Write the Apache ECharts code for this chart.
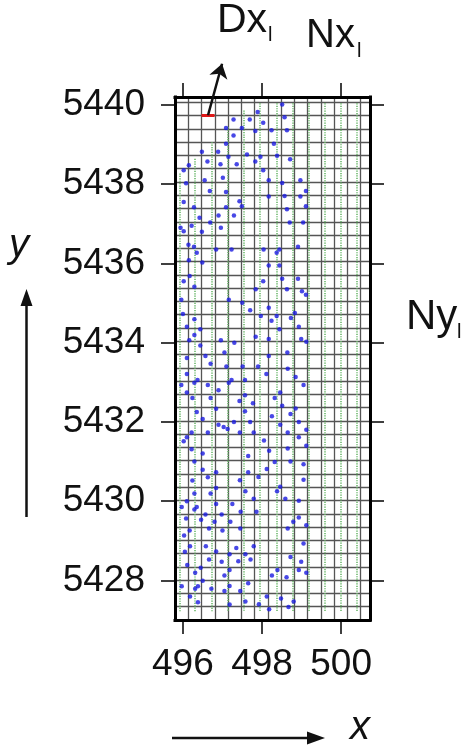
<!DOCTYPE html>
<html>
<head>
<meta charset="utf-8">
<script src="https://cdn.jsdelivr.net/npm/echarts@6/dist/echarts.min.js"></script>
<style>
  html, body { margin: 0; padding: 0; background: #fff; }
  #chart { width: 462px; height: 750px; }
</style>
</head>
<body>
<div id="chart"></div>
<script>
// Extent of the survey window (km)
const xMin = 495.8, xMax = 500.73;
const yMin = 5427.0, yMax = 5440.2;
const xTicks = [496, 498, 500];
const yTicks = [5428, 5430, 5432, 5434, 5436, 5438, 5440];
const cellSize = 0.335;

// Measurement sites (easting, northing)
const siteX = [498.51,497.89,498.57,497.28,497.69,498.03,497.09,497.49,497.83,498.24,498.63,497.28,497.09,498.30,496.48,496.89,497.62,497.15,497.96,498.38,498.71,496.62,497.83,496.15,496.95,497.36,496.02,498.03,496.08,496.55,497.01,498.17,498.51,498.97,496.68,497.09,499.11,498.17,498.57,498.97,496.02,497.43,496.28,497.09,497.49,498.63,499.11,496.90,497.29,496.42,496.69,498.70,499.04,495.94,496.22,496.96,496.02,496.48,496.14,496.28,496.35,496.84,497.23,498.04,498.44,498.37,498.91,496.15,496.49,498.17,498.44,496.17,496.02,498.03,498.51,498.91,496.29,497.84,498.63,499.01,499.11,495.96,497.16,497.50,497.70,498.17,498.83,496.00,497.97,498.37,498.73,496.29,498.24,496.10,496.44,498.44,498.93,496.29,497.84,496.16,496.96,498.17,498.99,497.30,499.12,496.44,497.05,498.64,496.10,496.57,498.17,497.10,497.51,497.90,496.70,496.10,498.11,498.65,498.85,496.37,496.29,497.23,497.57,497.16,495.96,496.63,499.05,496.90,496.10,498.46,496.24,496.70,497.57,498.32,497.43,497.77,498.51,496.84,497.57,498.85,496.35,498.72,498.25,496.50,497.29,497.70,498.93,496.90,497.03,497.13,498.46,499.12,496.22,496.63,497.44,497.79,498.65,496.10,498.93,496.02,498.05,499.12,496.22,498.18,498.65,496.50,497.65,496.29,498.32,498.72,499.05,496.50,498.12,496.84,497.65,496.63,497.91,496.24,497.44,499.05,496.84,498.46,498.38,497.58,496.29,496.70,496.84,497.25,496.10,497.79,498.59,498.93,495.97,496.35,496.29,497.46,497.86,496.57,496.98,496.08,496.46,496.80,497.20,498.93,498.79,499.12,496.66,497.45,498.65,496.17,497.00,496.03,499.05,496.18,496.58,497.35,497.79,496.05,496.84,497.18,497.58,498.72,496.66,497.71,496.98,497.40,498.99,496.11,496.45,497.18,498.39,498.93,499.12,496.31,497.05,498.25,498.62,496.50,497.65,495.97,496.38,497.18,496.31,496.72,497.05,497.45,498.12,496.18,498.48,498.80,497.58,496.38,497.18,497.92,498.67,498.18];
const siteY = [5440.01,5439.82,5439.69,5439.63,5439.63,5439.55,5439.42,5439.42,5439.34,5439.36,5439.36,5439.23,5439.02,5439.02,5438.82,5438.82,5438.75,5438.69,5438.69,5438.72,5438.63,5438.57,5438.57,5438.48,5438.50,5438.50,5438.35,5438.35,5438.02,5438.10,5438.16,5438.10,5438.03,5438.10,5437.83,5437.80,5437.83,5437.69,5437.70,5437.69,5437.55,5437.57,5437.42,5437.42,5437.44,5437.37,5437.44,5437.21,5437.21,5437.15,5437.03,5437.03,5437.03,5436.90,5436.95,5436.90,5436.81,5436.80,5436.47,5436.42,5436.27,5436.35,5436.35,5436.35,5436.35,5436.27,5436.42,5436.08,5436.02,5435.95,5435.95,5435.68,5435.55,5435.55,5435.61,5435.61,5435.41,5435.35,5435.35,5435.30,5435.21,5435.08,5435.08,5435.01,5434.82,5434.88,5434.75,5434.72,5434.67,5434.67,5434.62,5434.59,5434.55,5434.40,5434.34,5434.34,5434.40,5434.19,5434.15,5434.06,5434.06,5434.09,5434.09,5434.00,5434.02,5433.93,5433.75,5433.75,5433.61,5433.66,5433.66,5433.40,5433.40,5433.40,5433.47,5433.21,5433.21,5433.34,5433.13,5433.06,5432.99,5433.06,5433.06,5432.99,5432.93,5432.93,5432.93,5432.80,5432.74,5432.74,5432.60,5432.60,5432.67,5432.60,5432.53,5432.47,5432.41,5432.33,5432.27,5432.34,5432.25,5432.20,5432.14,5432.07,5432.00,5432.00,5432.00,5431.93,5431.87,5431.82,5431.93,5431.80,5431.73,5431.73,5431.73,5431.73,5431.73,5431.61,5431.61,5431.51,5431.53,5431.40,5431.31,5431.27,5431.33,5431.20,5431.14,5431.00,5430.99,5431.00,5430.93,5430.79,5430.81,5430.73,5430.73,5430.60,5430.61,5430.52,5430.53,5430.54,5430.33,5430.36,5430.25,5430.25,5430.19,5430.19,5429.93,5429.93,5430.00,5430.06,5430.06,5430.01,5429.85,5429.85,5429.79,5429.73,5429.73,5429.66,5429.66,5429.56,5429.53,5429.48,5429.48,5429.59,5429.48,5429.39,5429.31,5429.31,5429.31,5429.26,5429.26,5429.13,5428.93,5428.86,5428.86,5428.82,5428.86,5428.72,5428.73,5428.66,5428.66,5428.59,5428.53,5428.53,5428.47,5428.48,5428.47,5428.39,5428.32,5428.26,5428.26,5428.26,5428.19,5428.19,5428.12,5428.12,5428.08,5427.99,5427.93,5427.85,5427.85,5427.86,5427.79,5427.79,5427.73,5427.73,5427.59,5427.59,5427.54,5427.47,5427.47,5427.45,5427.39,5427.40,5427.33,5427.27];

// Flight-line profiles: easting, northern end, southern end
const profileX = [495.91,496.31,496.72,497.13,497.54,497.94,498.36,498.78,499.18,499.58,499.98,500.39];
const profileTop = [5438.27,5438.64,5439.06,5439.44,5439.86,5440.04,5440.04,5440.04,5440.04,5440.04,5440.04,5440.04];
const profileBottom = [5427.22,5427.22,5427.22,5427.22,5427.22,5427.22,5427.22,5427.22,5427.22,5427.22,5427.22,5427.22];

// Highlighted cell edge (Dx) and the pointer towards its label
const cellEdgeX = [496.47, 496.80];
const cellEdgeY = 5439.74;
const pointerEnd = [496.99, 5441.04];

const FONT = '"Liberation Sans", Arial, Helvetica, sans-serif';

const chart = echarts.init(document.getElementById('chart'), null, { renderer: 'canvas' });

const sites = siteX.map((x, i) => [x, siteY[i]]);
const profiles = profileX.map((x, i) => ({ coords: [[x, profileTop[i]], [x, profileBottom[i]]] }));

const borderLine = { show: true, onZero: false, lineStyle: { color: '#000', width: 3, cap: 'square' } };
const tickStyle = { color: '#000', width: 1.5 };
const labelStyle = { fontSize: 37, color: '#111', fontFamily: FONT, formatter: v => String(v) };
const cellLine = { show: true, lineStyle: { color: '#555', width: 1.3 } };

const option = {
  animation: false,
  backgroundColor: '#fff',
  grid: { left: 175, top: 97, width: 195, height: 523, containLabel: false },
  xAxis: [
    { type: 'value', position: 'bottom', min: xMin, max: xMax,
      axisLine: borderLine,
      axisTick: { show: true, inside: false, length: 14, customValues: xTicks, lineStyle: tickStyle },
      axisLabel: { show: true, customValues: xTicks, margin: 26, ...labelStyle },
      splitLine: { show: false } },
    { type: 'value', position: 'top', min: xMin, max: xMax,
      axisLine: borderLine,
      axisTick: { show: true, inside: false, length: 14, customValues: xTicks, lineStyle: tickStyle },
      axisLabel: { show: false },
      splitLine: { show: false } },
    { type: 'value', position: 'bottom', min: xMin, max: xMax, interval: cellSize,
      axisLine: { show: false }, axisTick: { show: false }, axisLabel: { show: false },
      splitLine: cellLine }
  ],
  yAxis: [
    { type: 'value', position: 'left', min: yMin, max: yMax,
      axisLine: borderLine,
      axisTick: { show: true, inside: false, length: 14, customValues: yTicks, lineStyle: tickStyle },
      axisLabel: { show: true, customValues: yTicks, margin: 30, ...labelStyle },
      splitLine: { show: false } },
    { type: 'value', position: 'right', min: yMin, max: yMax,
      axisLine: borderLine,
      axisTick: { show: true, inside: false, length: 14, customValues: yTicks, lineStyle: tickStyle },
      axisLabel: { show: false },
      splitLine: { show: false } },
    { type: 'value', position: 'left', min: yMin, max: yMax, interval: cellSize,
      axisLine: { show: false }, axisTick: { show: false }, axisLabel: { show: false },
      splitLine: cellLine }
  ],
  series: [
    { type: 'lines', coordinateSystem: 'cartesian2d', xAxisIndex: 0, yAxisIndex: 0,
      silent: true, z: 3,
      lineStyle: { color: '#6cb86c', width: 1.6, type: [1.2, 1.2], opacity: 1 },
      data: profiles },
    { type: 'scatter', xAxisIndex: 0, yAxisIndex: 0, z: 5, silent: true,
      symbol: 'circle', symbolSize: 4.5,
      itemStyle: { color: '#1a1ae0' },
      data: sites },
    { type: 'lines', coordinateSystem: 'cartesian2d', xAxisIndex: 0, yAxisIndex: 0,
      silent: true, z: 6,
      lineStyle: { color: '#e01818', width: 3, opacity: 1 },
      data: [{ coords: [[cellEdgeX[0], cellEdgeY], [cellEdgeX[1], cellEdgeY]] }] },
    { type: 'lines', coordinateSystem: 'cartesian2d', xAxisIndex: 0, yAxisIndex: 0,
      silent: true, z: 7, clip: false,
      symbol: ['none', 'arrow'], symbolSize: [11, 14],
      lineStyle: { color: '#111', width: 2.5, opacity: 1 },
      data: [{ coords: [[(cellEdgeX[0] + cellEdgeX[1]) / 2, cellEdgeY], pointerEnd] }] }
  ],
  graphic: [
    // direction arrows beside the axes
    { type: 'line', shape: { x1: 26.5, y1: 517, x2: 26.5, y2: 302 }, style: { stroke: '#111', lineWidth: 2.5 } },
    { type: 'polygon', shape: { points: [[26.5, 289], [20.5, 306], [32.5, 306]] }, style: { fill: '#111' } },
    { type: 'line', shape: { x1: 172, y1: 738, x2: 310, y2: 738 }, style: { stroke: '#111', lineWidth: 2.5 } },
    { type: 'polygon', shape: { points: [[325, 738], [307, 731.5], [307, 744.5]] }, style: { fill: '#111' } },
    // axis names
    { type: 'text', left: 9, top: 226, style: { text: 'y', fontSize: 40, fontStyle: 'italic', fontFamily: FONT, fill: '#111' } },
    { type: 'text', left: 350, top: 708, style: { text: 'x', fontSize: 40, fontStyle: 'italic', fontFamily: FONT, fill: '#111' } },
    // grid parameters
    { type: 'text', left: 217, top: 0, style: { text: 'Dx', fontSize: 41, fontFamily: FONT, fill: '#111' } },
    { type: 'text', left: 268, top: 25, style: { text: 'l', fontSize: 20, fontFamily: FONT, fill: '#111' } },
    { type: 'text', left: 306, top: 16, style: { text: 'Nx', fontSize: 40, fontFamily: FONT, fill: '#111' } },
    { type: 'text', left: 357, top: 41, style: { text: 'l', fontSize: 20, fontFamily: FONT, fill: '#111' } },
    { type: 'text', left: 406, top: 296, style: { text: 'Ny', fontSize: 42, fontFamily: FONT, fill: '#111' } },
    { type: 'text', left: 457, top: 322, style: { text: 'l', fontSize: 20, fontFamily: FONT, fill: '#111' } }
  ]
};

chart.setOption(option);
</script>
</body>
</html>
